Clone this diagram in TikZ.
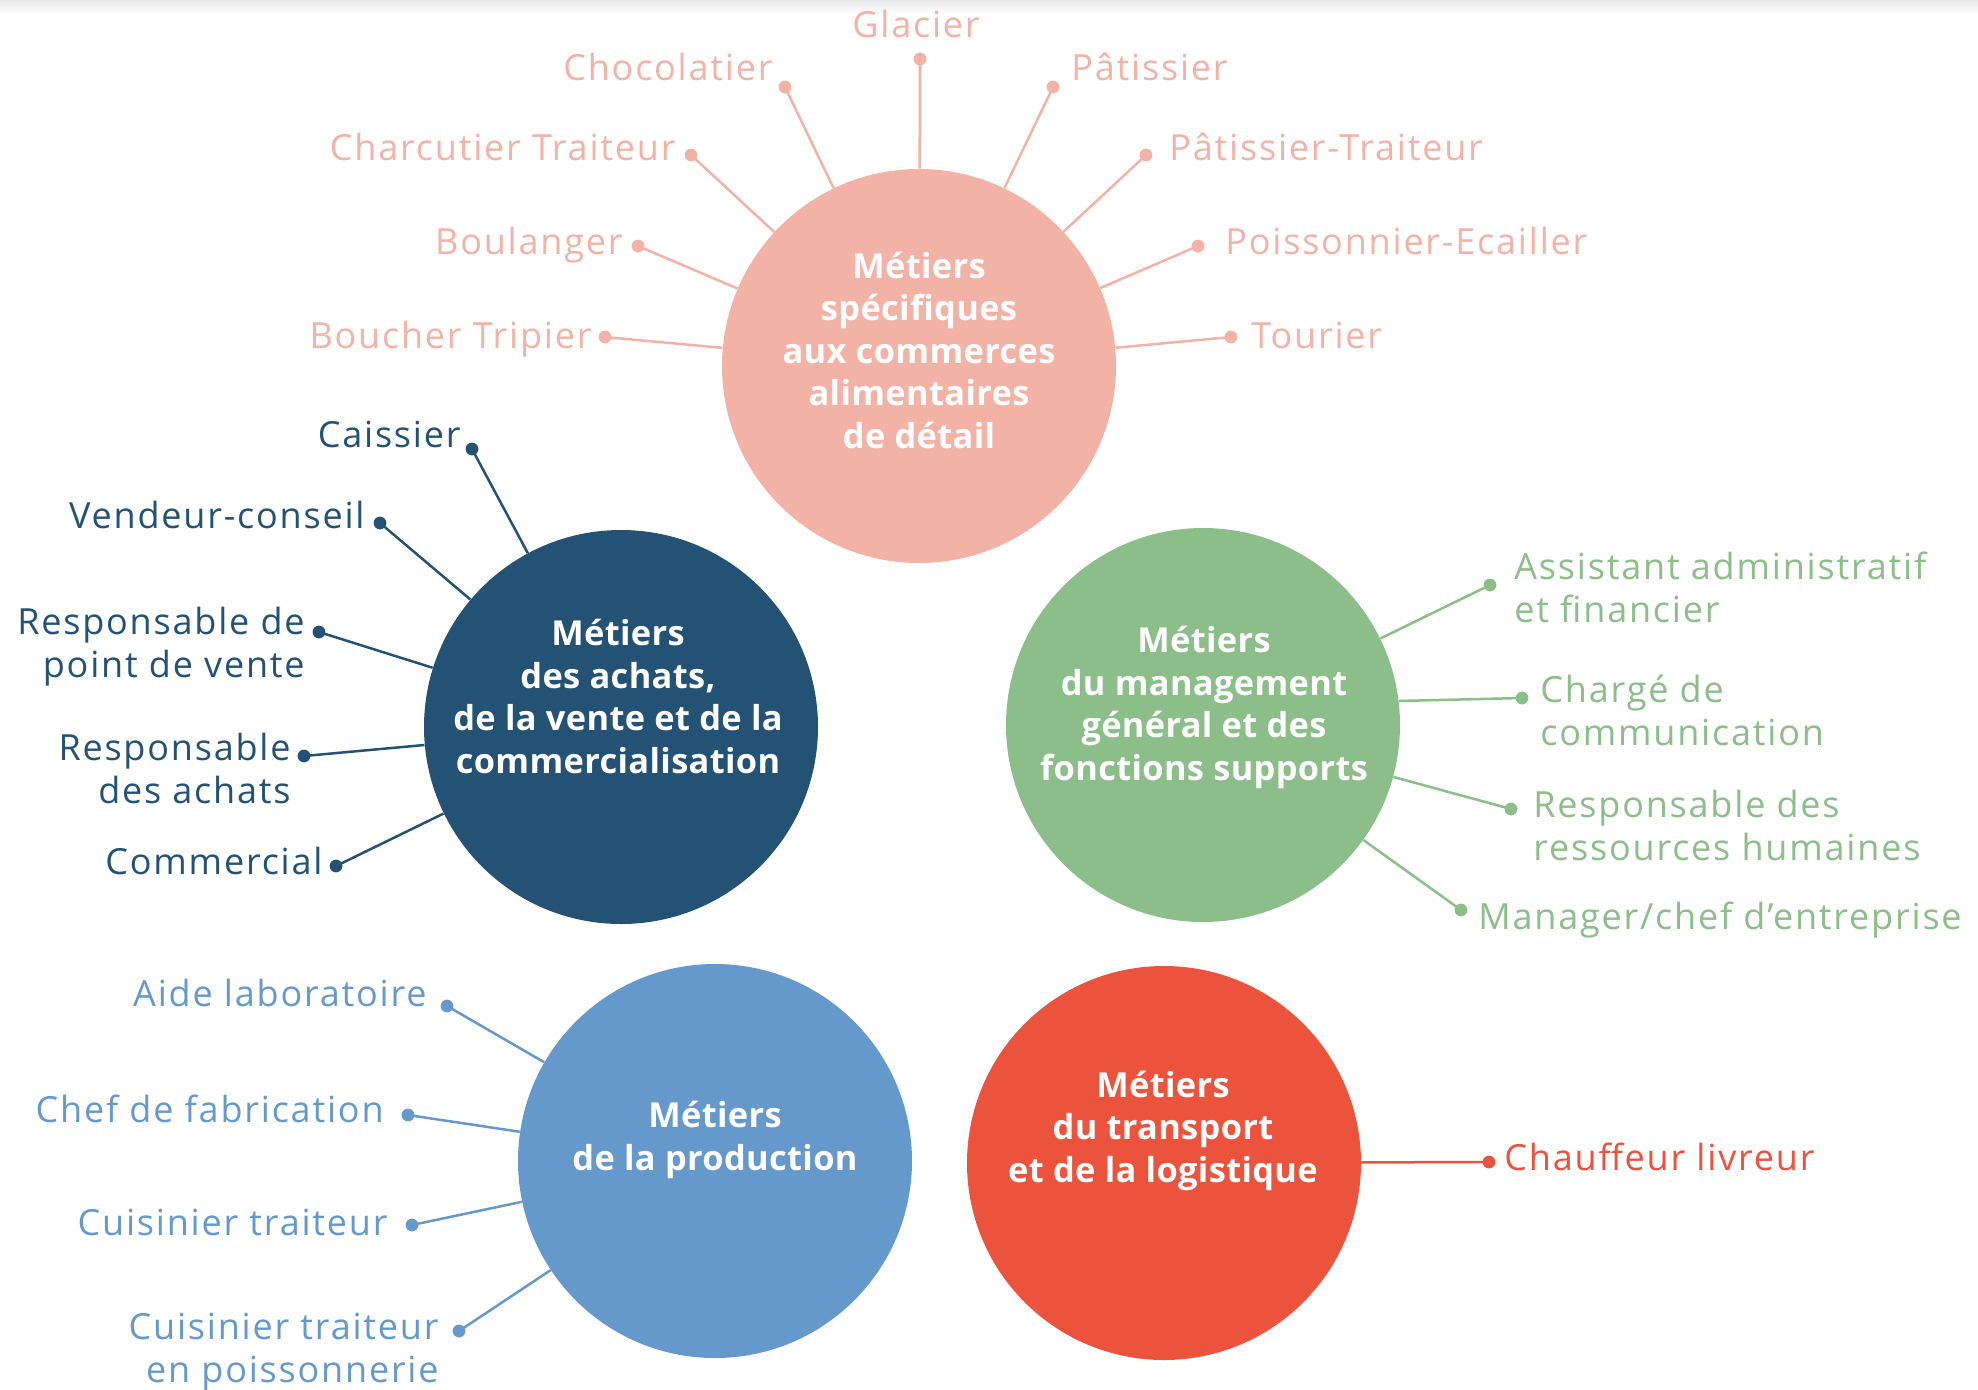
\documentclass[tikz,border=0pt]{standalone}
\usepackage{fontspec}
\setmainfont{Open Sans}
\newfontfamily\labelfont{Open Sans}[LetterSpace=5]
\newfontfamily\hubfont{Open Sans}[LetterSpace=1]

\definecolor{rosec}{HTML}{F2B3A6}
\definecolor{navyc}{HTML}{245275}
\definecolor{greenc}{HTML}{8CBE89}
\definecolor{skyc}{HTML}{6699CB}
\definecolor{redc}{HTML}{EB533D}

\begin{document}
\begin{tikzpicture}[x=0.5pt,y=-0.5pt,
  hub/.style={circle,fill=#1,inner sep=0pt,minimum size=197pt},
  % multi-line nodes: the base anchor sits on the last line
  hubtext/.style={text=white,font=\hubfont\bfseries\fontsize{17.2}{21.2}\selectfont,
                  align=center,anchor=base,inner sep=0pt},
  lbl/.style={text=#1,font=\labelfont\fontsize{18}{21.5}\selectfont,inner sep=0pt},
  lblL/.style={lbl=#1,anchor=base east,align=right},
  lblR/.style={lbl=#1,anchor=base west,align=left},
  pin/.style={circle,fill=#1,inner sep=0pt,minimum size=6.4pt},
  link/.style={draw=#1,line width=1.25pt}]

\useasboundingbox (0,0) rectangle (1978,1389);
\shade[top color=black!9,bottom color=white] (0,0) rectangle (1978,14);

% ---------- hubs ----------
\node[hub=rosec]  (P) at (919,366)  {};
\node[hub=navyc]  (N) at (621,727)  {};
\node[hub=greenc] (G) at (1203,725) {};
\node[hub=skyc]   (B) at (715,1161) {};
\node[hub=redc]   (R) at (1164,1163) {};

\node[hubtext] (Pt) at (919,448) {Métiers\\spécifiques\\aux commerces\\alimentaires\\de détail};
\node[hubtext] (Nt) at (618,773) {Métiers\\des achats,\\de la vente et de la\\commercialisation};
\node[hubtext] (Gt) at (1204,780) {Métiers\\du management\\général et des\\fonctions supports};
\node[hubtext] (Bt) at (715,1170) {Métiers\\de la production};
\node[hubtext] (Rt) at (1163,1182) {Métiers\\du transport\\et de la logistique};

% ---------- food retail trades ----------
\node[lbl=rosec,anchor=base] (gla) at (916,37) {Glacier};
\node[lblL=rosec] (cho) at (773,80)  {Chocolatier};
\node[lblR=rosec] (pat) at (1071,80) {Pâtissier};
\node[lblL=rosec] (cha) at (676,160) {Charcutier Traiteur};
\node[lblR=rosec] (ptr) at (1169,160) {Pâtissier-Traiteur};
\node[lblL=rosec] (bou) at (623,254) {Boulanger};
\node[lblR=rosec] (poi) at (1225,254) {Poissonnier-Ecailler};
\node[lblL=rosec] (bch) at (592,348) {Boucher Tripier};
\node[lblR=rosec] (tou) at (1251,348) {Tourier};

\node[pin=rosec] (dgla) at (920,59) {};
\node[pin=rosec] (dcho) at (785,87) {};
\node[pin=rosec] (dpat) at (1053,87) {};
\node[pin=rosec] (dcha) at (691,155) {};
\node[pin=rosec] (dptr) at (1146,155) {};
\node[pin=rosec] (dbou) at (638,246) {};
\node[pin=rosec] (dpoi) at (1198,246) {};
\node[pin=rosec] (dbch) at (605,337) {};
\node[pin=rosec] (dtou) at (1231,337) {};
\foreach \d in {dgla,dcho,dpat,dcha,dptr,dbou,dpoi,dbch,dtou}
  \draw[link=rosec] (\d.center) -- (P);

% ---------- purchasing and sales ----------
\node[lblL=navyc] (cai) at (461,447) {Caissier};
\node[lblL=navyc] (ven) at (365,528) {Vendeur-conseil};
\node[lblL=navyc] (rpv) at (305,677) {Responsable de\\point de vente};
\node[lblL=navyc] (rac) at (291,803) {Responsable\\des achats};
\node[lblL=navyc] (com) at (323,874) {Commercial};

\node[pin=navyc] (dcai) at (472,449) {};
\node[pin=navyc] (dven) at (380,523) {};
\node[pin=navyc] (drpv) at (319,632) {};
\node[pin=navyc] (drac) at (304,756) {};
\node[pin=navyc] (dcom) at (336,866) {};
\foreach \d in {dcai,dven,drpv,drac,dcom}
  \draw[link=navyc] (\d.center) -- (N);

% ---------- management and support ----------
\node[lblR=greenc] (ass) at (1514,622) {Assistant administratif\\et financier};
\node[lblR=greenc] (chg) at (1540,745) {Chargé de\\communication};
\node[lblR=greenc] (rrh) at (1533,860) {Responsable des\\ressources humaines};
\node[lblR=greenc] (man) at (1478,929) {Manager/chef d’entreprise};

\node[pin=greenc] (dass) at (1490,585) {};
\node[pin=greenc] (dchg) at (1522,698) {};
\node[pin=greenc] (drrh) at (1511,809) {};
\node[pin=greenc] (dman) at (1461,910) {};
\draw[link=greenc] (dass.center) -- (G);
\draw[link=greenc] (dchg.center) -- (G.7.9);
\draw[link=greenc] (drrh.center) -- (G);
\draw[link=greenc] (dman.center) -- (G);

% ---------- production ----------
\node[lblL=skyc] (aid) at (427,1006) {Aide laboratoire};
\node[lblL=skyc] (chf) at (384,1122) {Chef de fabrication};
\node[lblL=skyc] (cui) at (388,1235) {Cuisinier traiteur};
\node[lblL=skyc] (cup) at (439,1382) {Cuisinier traiteur\\en poissonnerie};

\node[pin=skyc] (daid) at (447,1006) {};
\node[pin=skyc] (dchf) at (408,1115) {};
\node[pin=skyc] (dcui) at (412,1225) {};
\node[pin=skyc] (dcup) at (459,1331) {};
\foreach \d in {daid,dchf,dcui,dcup}
  \draw[link=skyc] (\d.center) -- (B);

% ---------- transport and logistics ----------
\node[lblR=redc] (chl) at (1504,1170) {Chauffeur livreur};
\node[pin=redc] (dchl) at (1489,1162) {};
\draw[link=redc] (dchl.center) -- (R);

\end{tikzpicture}
\end{document}
